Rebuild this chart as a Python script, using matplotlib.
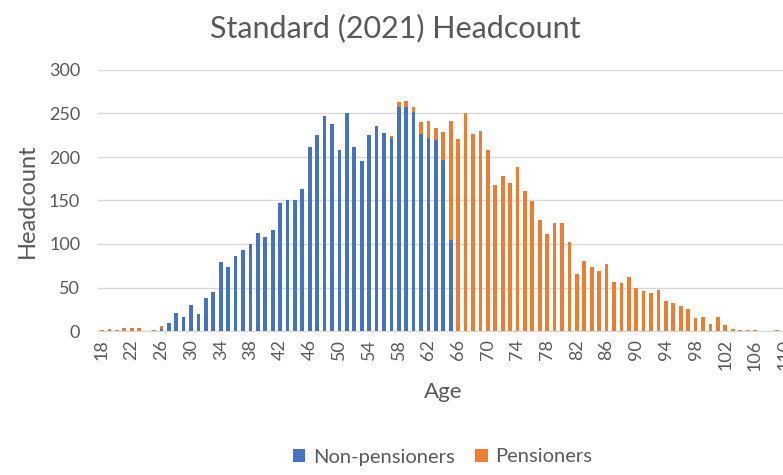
import numpy as np
import matplotlib.pyplot as plt

ages = list(range(18, 111))

# headcount, ages 18..110
non_pensioners = [
    0, 0, 0, 0, 0, 0, 0, 0, 2, 9,            # 18-27
    21, 16, 30, 20, 38, 45, 79, 73, 86, 93,   # 28-37
    100, 113, 108, 116, 147, 151, 150, 163, 212, 225,  # 38-47
    247, 238, 208, 250, 211, 195, 225, 236, 228, 222,  # 48-57
    258, 258, 252, 226, 222, 220, 196, 105, 0, 0,      # 58-67
] + [0] * 43

pensioners = [
    1, 2, 1, 4, 4, 3, 0, 1, 4, 0,             # 18-27
    0, 0, 0, 0, 0, 0, 0, 0, 0, 0,             # 28-37
    0, 0, 0, 0, 0, 0, 0, 0, 0, 0,             # 38-47
    0, 0, 0, 0, 0, 0, 0, 0, 0, 2,             # 48-57
    5, 6, 6, 14, 19, 13, 33, 136, 221, 251,   # 58-67
    226, 230, 208, 168, 178, 170, 188, 161, 149, 128,  # 68-77
    112, 124, 124, 102, 66, 80, 74, 69, 77, 56,        # 78-87
    55, 62, 50, 46, 44, 47, 34, 32, 29, 25,            # 88-97
    15, 16, 8, 16, 7, 2, 1, 1, 1, 0,                   # 98-107
    0, 1, 0,                                           # 108-110
]

tick_ages = list(range(18, 111, 4))

BLUE = '#4472C4'
ORANGE = '#ED7D31'
GREY = '#595959'

plt.rcParams['font.family'] = ['Lato', 'DejaVu Sans']

fig = plt.figure(figsize=(7.83, 4.75), dpi=100)
ax = fig.add_axes([98.3 / 783, 144 / 475, 690 / 783, 261 / 475])

x = np.array(ages)
ax.bar(x, non_pensioners, width=0.5, color=BLUE, label='Non-pensioners', zorder=3)
ax.bar(x, pensioners, width=0.5, bottom=non_pensioners, color=ORANGE,
       label='Pensioners', zorder=3)

ax.set_xlim(17.5, 110.5)
ax.set_ylim(0, 300)
ax.set_yticks(range(0, 301, 50))
ax.set_xticks(tick_ages)
ax.set_xticklabels([str(a) for a in tick_ages], rotation=90)
ax.tick_params(axis='both', length=0, colors=GREY, labelsize=13)
ax.tick_params(axis='x', pad=6)
ax.tick_params(axis='y', pad=13)

ax.grid(axis='y', color='#D9D9D9', linewidth=1, zorder=0)
for s in ['top', 'right', 'left']:
    ax.spines[s].set_visible(False)
ax.spines['bottom'].set_color('#D9D9D9')

ax.set_xlabel('Age', fontsize=16, color=GREY, labelpad=8)
ax.set_ylabel('Headcount', fontsize=17, color=GREY, labelpad=8)

fig.text(0.505, 0.94, 'Standard (2021) Headcount', ha='center', va='center',
         fontsize=22, color=GREY)

fig.legend(loc='center', bbox_to_anchor=(443 / 783, 1 - 457 / 475), ncol=2,
           frameon=False, fontsize=14.5, handlelength=0.6, handleheight=0.6,
           columnspacing=1.0, handletextpad=0.4, labelcolor=GREY)

fig.savefig('out.png', dpi=100)
